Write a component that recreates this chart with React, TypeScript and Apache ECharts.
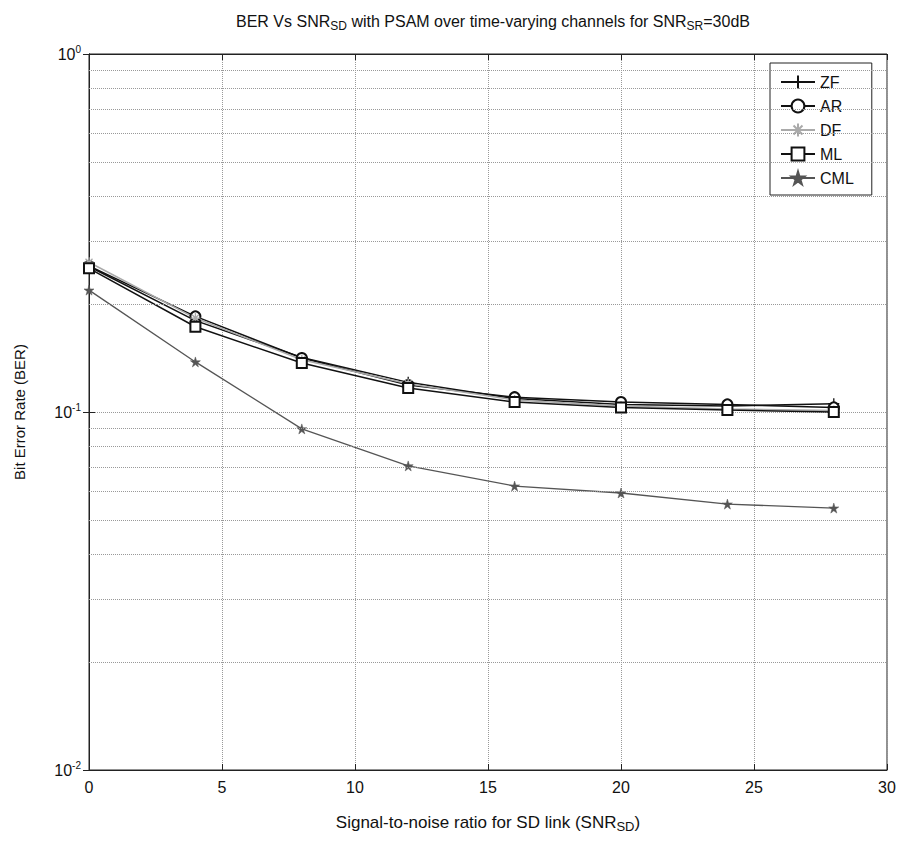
import React, { useEffect, useRef } from "react";
import * as echarts from "echarts";

const snr = [0, 4, 8, 12, 16, 20, 24, 28];
const berZF = [0.255, 0.18, 0.142, 0.121, 0.109, 0.105, 0.104, 0.1055];
const berAR = [0.256, 0.185, 0.1415, 0.119, 0.11, 0.1066, 0.105, 0.103];
const berDF = [0.262, 0.183, 0.14, 0.12, 0.108, 0.104, 0.102, 0.101];
const berML = [0.252, 0.173, 0.137, 0.1167, 0.1066, 0.103, 0.1013, 0.1];
const berCML = [0.219, 0.138, 0.0897, 0.0707, 0.0621, 0.0594, 0.0553, 0.0539];
const minorGrid = [0.02, 0.03, 0.04, 0.05, 0.06, 0.07, 0.08, 0.09, 0.2, 0.3, 0.4, 0.5, 0.6, 0.7, 0.8, 0.9];

const FONT = "Liberation Sans, Arial, sans-serif";
const PLUS = "path://M5,0L5,10M0,5L10,5";
const ASTER = "path://M5,0L5,10M0,5L10,5M1.5,1.5L8.5,8.5M1.5,8.5L8.5,1.5";
const STAR = "path://M50,0L61,35L98,35L68,57L79,91L50,70L21,91L32,57L2,35L39,35Z";

const pairs = (ys: number[]) => snr.map((x, i) => [x, ys[i]]);

export default function App() {
  const ref = useRef<HTMLDivElement>(null);
  useEffect(() => {
    if (!ref.current) return;
    const chart = echarts.init(ref.current, null, { renderer: "svg" });
    const mkRich = (size: number) => ({
      b: { fontSize: size, fontFamily: FONT, fontWeight: "normal", color: "#111", lineHeight: 22 },
      s: { fontSize: size - 4, fontFamily: FONT, fontWeight: "normal", color: "#111", lineHeight: 11, verticalAlign: "bottom" },
    });
    chart.setOption({
      animation: false,
      backgroundColor: "#fff",
      title: {
        text: "{b|BER Vs SNR}{s|SD}{b| with PSAM over time-varying channels for SNR}{s|SR}{b|=30dB}",
        left: 488,
        textAlign: "center",
        top: 5,
        textStyle: { fontWeight: "normal", rich: mkRich(16) },
      },
      legend: {
        orient: "vertical",
        left: 770,
        top: 63,
        itemWidth: 34,
        itemHeight: 16,
        itemGap: 8,
        padding: [11, 18, 9, 10],
        borderColor: "#222",
        borderWidth: 1,
        borderRadius: 0,
        backgroundColor: "#fff",
        textStyle: { fontSize: 16, fontFamily: FONT, color: "#111" },
        data: ["ZF", "AR", "DF", "ML", "CML"],
      },
      grid: { left: 89, right: 18, top: 54, bottom: 75, show: true, borderColor: "#222", borderWidth: 1 },
      xAxis: [
        {
          type: "value",
          min: 0,
          max: 30,
          interval: 5,
          axisLine: { lineStyle: { color: "#222" } },
          axisTick: { inside: true, length: 6, lineStyle: { color: "#222" } },
          axisLabel: { fontSize: 16, fontFamily: FONT, color: "#111", margin: 9 },
          splitLine: { show: true, lineStyle: { type: "dotted", color: "#999", width: 1 } },
          name: "{b|Signal-to-noise ratio for SD link (SNR}{s|SD}{b|)}",
          nameLocation: "middle",
          nameGap: 41,
          nameTextStyle: { rich: mkRich(17) },
        },
        {
          type: "value",
          position: "top",
          min: 0,
          max: 30,
          interval: 5,
          axisLine: { show: true, lineStyle: { color: "#222" } },
          axisTick: { inside: true, length: 6, lineStyle: { color: "#222" } },
          axisLabel: { show: false },
          splitLine: { show: false },
        },
      ],
      yAxis: [
        {
          type: "log",
          min: 0.01,
          max: 1,
          logBase: 10,
          axisLine: { lineStyle: { color: "#222" } },
          axisTick: { inside: true, length: 6, lineStyle: { color: "#222" } },
          axisLabel: {
            margin: 8,
            formatter: (v: number) => `{n|10}{e|${Math.round(Math.log10(v))}}`,
            rich: {
              n: { fontSize: 16, fontFamily: FONT, color: "#111", lineHeight: 20 },
              e: { fontSize: 10, fontFamily: FONT, color: "#111", lineHeight: 10, verticalAlign: "top" },
            },
          },
          splitLine: { show: true, lineStyle: { type: "dotted", color: "#999", width: 1 } },
          name: "Bit Error Rate (BER)",
          nameLocation: "middle",
          nameGap: 62,
          nameTextStyle: { fontSize: 15, fontFamily: FONT, color: "#111" },
        },
        {
          type: "log",
          position: "right",
          min: 0.01,
          max: 1,
          logBase: 10,
          axisLine: { show: true, lineStyle: { color: "#222" } },
          axisTick: { inside: true, length: 6, lineStyle: { color: "#222" } },
          axisLabel: { show: false },
          splitLine: { show: false },
        },
      ],
      series: [
        {
          name: "grid",
          type: "line",
          data: [],
          silent: true,
          markLine: {
            silent: true,
            symbol: "none",
            label: { show: false },
            lineStyle: { type: "dotted", color: "#999", width: 1 },
            data: minorGrid.map((v) => ({ yAxis: v })),
          },
        },
        {
          name: "ZF",
          type: "line",
          data: pairs(berZF),
          symbol: PLUS,
          symbolSize: 11,
          color: "#111",
          lineStyle: { color: "#111", width: 1.5 },
          itemStyle: { color: "#111", borderColor: "#111", borderWidth: 1.3 },
        },
        {
          name: "AR",
          type: "line",
          data: pairs(berAR),
          symbol: "emptyCircle",
          symbolSize: 10,
          color: "#111",
          lineStyle: { color: "#111", width: 1.5 },
          itemStyle: { color: "#111", borderColor: "#111", borderWidth: 1.3 },
        },
        {
          name: "DF",
          type: "line",
          data: pairs(berDF),
          symbol: ASTER,
          symbolSize: 10,
          color: "#aaa",
          lineStyle: { color: "#aaa", width: 1.5 },
          itemStyle: { color: "#aaa", borderColor: "#aaa", borderWidth: 1.3 },
        },
        {
          name: "ML",
          type: "line",
          data: pairs(berML),
          symbol: "emptyRect",
          symbolSize: 10,
          color: "#111",
          lineStyle: { color: "#111", width: 1.5 },
          itemStyle: { color: "#111", borderColor: "#111", borderWidth: 1.5 },
        },
        {
          name: "CML",
          type: "line",
          data: pairs(berCML),
          symbol: STAR,
          symbolSize: 10,
          color: "#555",
          lineStyle: { color: "#555", width: 1.3 },
          itemStyle: { color: "#555", borderColor: "#555", borderWidth: 0.5 },
        },
      ],
    });
    return () => chart.dispose();
  }, []);
  return <div ref={ref} style={{ position: "absolute", left: 0, top: 0, width: 905, height: 845 }} />;
}
